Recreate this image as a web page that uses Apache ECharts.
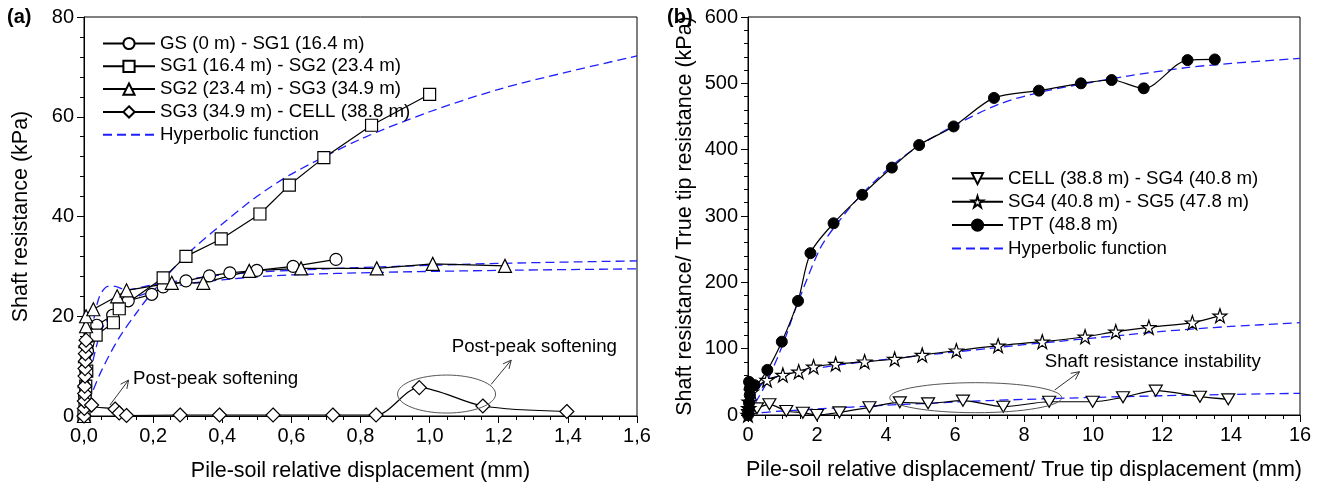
<!DOCTYPE html>
<html><head><meta charset="utf-8">
<script src="https://cdn.jsdelivr.net/npm/echarts@6/dist/echarts.min.js"></script>
<style>html,body{margin:0;padding:0;background:#fff}#c{width:1320px;height:490px}</style>
</head><body><div id="c"></div><script>
// ---------- (a) measured data [displacement mm, resistance kPa] ----------
const gsSg1 = [[0,0],[0.002,4],[0.005,9],[0.01,13],[0.02,16],[0.037,18.2],[0.083,20.2],[0.128,23.1],[0.196,24.4],[0.229,25.9],[0.295,27.1],[0.363,28.1],[0.422,28.7],[0.5,29.2],[0.605,30.0],[0.729,31.4]];
const sg1Sg2 = [[0,0],[0.003,3],[0.005,6],[0.008,9],[0.035,16.2],[0.085,18.7],[0.102,21.5],[0.229,27.7],[0.295,32],[0.397,35.5],[0.509,40.5],[0.594,46.3],[0.694,51.8],[0.832,58.3],[1.0,64.5]];
const sg2Sg3 = [[0,0],[0.002,7],[0.003,12],[0.004,15],[0.006,18],[0.006,20],[0.027,21.4],[0.096,24],[0.123,25.2],[0.254,26.7],[0.345,26.7],[0.478,29.1],[0.628,29.6],[0.847,29.6],[1.009,30.5],[1.218,30.1]];
const sg3Cell = [[0,0],[0.001,1.5],[0.001,3],[0.002,4.5],[0.002,6],[0.003,8],[0.003,9.5],[0.004,11],[0.004,12.5],[0.005,14],[0.006,15.2],[0.022,2.2],[0.09,1.4],[0.102,0.6],[0.123,0.1],[0.278,0.2],[0.392,0.2],[0.547,0.2],[0.72,0.2],[0.845,0.2],[0.97,5.7],[1.154,2.0],[1.397,0.9]];
// (a) hyperbolic fits
const fitSg1Sg2 = [[0,0],[0.02,4],[0.05,9],[0.1,15.5],[0.15,20.5],[0.2,25],[0.3,32.5],[0.4,38.5],[0.5,44],[0.6,48.5],[0.8,55.5],[1.0,61],[1.2,65.5],[1.4,69],[1.6,72.2]];
const fitSg2Sg3 = [[0,0],[0.01,8],[0.025,18],[0.045,24],[0.07,26],[0.09,26],[0.12,25.3],[0.2,26.3],[0.4,28.3],[0.6,29.2],[0.86,29.9],[1.2,30.6],[1.6,31.1]];
const fitGsSg1 = [[0,0],[0.01,4],[0.02,9],[0.04,15],[0.06,18.5],[0.1,21.8],[0.15,23.8],[0.2,25],[0.3,26.5],[0.4,27.3],[0.5,27.9],[0.6,28.3],[0.86,28.8],[1.2,29.2],[1.6,29.5]];

// ---------- (b) measured data ----------
const cellSg4 = [[0,0],[0.05,3],[0.26,10],[0.62,16.1],[1.11,6],[1.59,3.5],[2.0,0],[2.65,4],[3.52,11.6],[4.4,19.1],[5.22,17.6],[6.23,21.6],[7.4,12.5],[8.73,20],[9.99,20],[10.87,26.7],[11.82,36.7],[13.1,27.6],[13.92,23.6]];
const sg4Sg5 = [[0,0],[0.02,10],[0.03,20],[0.1,35],[0.55,52.8],[1.01,60.3],[1.47,65.3],[1.9,72.8],[2.54,76.9],[3.38,80.4],[4.25,84.4],[5.05,90.5],[6.04,97],[7.25,104.5],[8.53,110.5],[9.77,118],[10.66,125.6],[11.62,132.2],[12.88,139.2],[13.68,149.7]];
const tpt = [[0,0],[0.02,8],[0.03,18],[0.05,30],[0.05,40],[0.03,50],[0.19,45],[0.56,68],[0.98,110.5],[1.45,172],[1.81,244],[2.48,289],[3.31,332],[4.17,373],[4.96,407],[5.96,435],[7.13,478],[8.43,489],[9.65,500],[10.54,505],[11.47,492.5],[12.74,535],[13.53,536]];
const fitCellSg4 = [[0,0],[0.3,3],[1,6],[2,9],[3,12],[4,14.8],[5,17],[6,19.5],[7,21.8],[8,23.5],[10,26.5],[12,29],[14,31],[16,32.7]];
const fitSg4Sg5 = [[0,0],[0.2,30],[0.43,48],[1,60],[2,70.5],[3,78],[4,84],[5,89.5],[6,95],[7,100.5],[8,106],[9,111],[10,116],[11,121],[12,126],[13,130],[14,133.5],[16,139.2]];
const fitTpt = [[0,0],[0.5,45],[1,105],[1.4,163],[2.07,249],[2.5,283],[3.3,333],[4.2,377],[5,407],[6,437],[7.3,469],[8.5,487],[10,502],[11,511],[12.7,523.6],[14,530],[16,537.7]];

// ---------- tick labels ----------
const leftXTickLabels = ['0,0','0,2','0,4','0,6','0,8','1,0','1,2','1,4','1,6'];
const leftYTickLabels = ['0','20','40','60','80'];
const rightXTickLabels = ['0','2','4','6','8','10','12','14','16'];
const rightYTickLabels = ['0','100','200','300','400','500','600'];

const FIT = 'Hyperbolic function';
const namesA = ['GS (0 m) - SG1 (16.4 m)','SG1 (16.4 m) - SG2 (23.4 m)','SG2 (23.4 m) - SG3 (34.9 m)','SG3 (34.9 m) - CELL (38.8 m)'];
const namesB = ['CELL (38.8 m) - SG4 (40.8 m)','SG4 (40.8 m) - SG5 (47.8 m)','TPT (48.8 m)'];

const FF = '"Liberation Sans", Arial, sans-serif';
const BLUE = '#1f1fff';
const starPath = 'path://M50,0 L61.8,35.4 L99,35.4 L68.9,57.3 L80.3,92.7 L50,70.8 L19.7,92.7 L31.1,57.3 L1,35.4 L38.2,35.4 Z';
const downTri = 'path://M0,0 L100,0 L50,86 Z';

function dataSeries(name, data, gi, symbol, size, opt) {
  const s = {
    type: 'line', name, data, xAxisIndex: gi, yAxisIndex: gi,
    symbol, symbolSize: size, showSymbol: true,
    lineStyle: { color: '#000', width: 1.2 },
    itemStyle: { color: '#fff', borderColor: '#000', borderWidth: 1.2 },
    z: 3, animation: false, smooth: false
  };
  return Object.assign(s, opt || {});
}
function fitSeries(data, gi, smooth) {
  return {
    type: 'line', name: FIT, data, xAxisIndex: gi, yAxisIndex: gi,
    symbol: 'circle', showSymbol: false, smooth: smooth, z: 2, animation: false,
    lineStyle: { color: BLUE, width: 1.3, type: [9, 5] },
    itemStyle: { color: BLUE }
  };
}
function axisCommon() {
  return {
    axisLine: { show: true, onZero: false, lineStyle: { color: '#000', width: 1 } },
    axisTick: { show: true, inside: false, length: 7, lineStyle: { color: '#000', width: 1 } },
    minorTick: { show: true, length: 4, lineStyle: { color: '#000', width: 1 } },
    splitLine: { show: false },
    axisLabel: { color: '#000', fontSize: 20, fontFamily: FF, margin: 10 },
    nameTextStyle: { color: '#000', fontSize: 21.5, fontFamily: FF }
  };
}
function mk(extra) {
  const o = axisCommon();
  Object.keys(extra).forEach(k => {
    if (typeof extra[k] === 'object' && !Array.isArray(extra[k]) && o[k]) o[k] = Object.assign({}, o[k], extra[k]);
    else o[k] = extra[k];
  });
  return o;
}
const fitLegendItem = { name: FIT, itemStyle: { opacity: 0 } };

const chart = echarts.init(document.getElementById('c'), null, { renderer: 'canvas' });
const option = {
  animation: false,
  backgroundColor: '#fff',
  grid: [
    { left: 84, right: 683, top: 17, bottom: 74, show: true, borderColor: '#000', borderWidth: 1, containLabel: false },
    { left: 748, right: 20, top: 17, bottom: 75, show: true, borderColor: '#000', borderWidth: 1, containLabel: false }
  ],
  xAxis: [
    mk({ type: 'value', gridIndex: 0, min: 0, max: 1.6, interval: 0.2, minorTick: { splitNumber: 4 },
      axisLabel: { formatter: v => leftXTickLabels[Math.round(v / 0.2)] },
      name: 'Pile-soil relative displacement (mm)', nameLocation: 'middle', nameGap: 44 }),
    mk({ type: 'value', gridIndex: 1, min: 0, max: 16, interval: 2, minorTick: { splitNumber: 4 },
      axisLabel: { formatter: v => rightXTickLabels[Math.round(v / 2)] },
      name: 'Pile-soil relative displacement/ True tip displacement (mm)', nameLocation: 'middle', nameGap: 44 })
  ],
  yAxis: [
    mk({ type: 'value', gridIndex: 0, min: 0, max: 80, interval: 20, minorTick: { splitNumber: 5 },
      axisLabel: { formatter: v => leftYTickLabels[Math.round(v / 20)] },
      name: 'Shaft resistance (kPa)', nameLocation: 'middle', nameGap: 52 }),
    mk({ type: 'value', gridIndex: 1, min: 0, max: 600, interval: 100, minorTick: { splitNumber: 5 },
      axisLabel: { formatter: v => rightYTickLabels[Math.round(v / 100)] },
      name: 'Shaft resistance/ True tip resistance (kPa)', nameLocation: 'middle', nameGap: 52 })
  ],
  legend: [
    { data: namesA.concat([fitLegendItem]), orient: 'vertical', left: 97, top: 29, itemWidth: 52, itemHeight: 14, itemGap: 3.8,
      textStyle: { color: '#000', fontSize: 18.7, fontFamily: FF }, selectedMode: false },
    { data: namesB.concat([fitLegendItem]), orient: 'vertical', left: 946, top: 164, itemWidth: 51, itemHeight: 14, itemGap: 4.3,
      textStyle: { color: '#000', fontSize: 18.7, fontFamily: FF }, selectedMode: false }
  ],
  series: [
    fitSeries(fitSg1Sg2, 0, 0.3),
    fitSeries(fitSg2Sg3, 0, 0.3),
    fitSeries(fitGsSg1, 0, 0.3),
    dataSeries(namesA[0], gsSg1, 0, 'circle', 12),
    dataSeries(namesA[1], sg1Sg2, 0, 'rect', 12),
    dataSeries(namesA[2], sg2Sg3, 0, 'triangle', 13),
    dataSeries(namesA[3], sg3Cell, 0, 'diamond', 14, { smooth: 0.3 }),
    fitSeries(fitCellSg4, 1, 0.3),
    fitSeries(fitSg4Sg5, 1, 0.3),
    fitSeries(fitTpt, 1, 0.3),
    dataSeries(namesB[0], cellSg4, 1, downTri, [13, 11], { smooth: 0.3 }),
    dataSeries(namesB[1], sg4Sg5, 1, starPath, 14, { smooth: 0.3 }),
    dataSeries(namesB[2], tpt, 1, 'circle', 11, { smooth: 0.3, itemStyle: { color: '#000', borderColor: '#000', borderWidth: 1 } })
  ]
};
chart.setOption(option);

// ---------- annotations placed through the axes ----------
function P(gi, x, y) { return chart.convertToPixel({ gridIndex: gi }, [x, y]); }
function arrow(a, b) {
  const ang = Math.atan2(b[1] - a[1], b[0] - a[0]);
  const L = 9, w = 0.45;
  const p1 = [b[0] - L * Math.cos(ang - w), b[1] - L * Math.sin(ang - w)];
  const p2 = [b[0] - L * Math.cos(ang + w), b[1] - L * Math.sin(ang + w)];
  return [
    { type: 'line', shape: { x1: a[0], y1: a[1], x2: b[0], y2: b[1] }, style: { stroke: '#333', lineWidth: 1 }, z: 10 },
    { type: 'polyline', shape: { points: [p1, b, p2] }, style: { stroke: '#333', lineWidth: 1, fill: null }, z: 10 }
  ];
}
const g = [];
const t1 = P(0, 0.142, 7.4);
g.push({ type: 'text', x: t1[0], y: t1[1], style: { text: 'Post-peak softening', fill: '#000', font: '18.7px ' + FF, textVerticalAlign: 'middle' }, z: 10 });
g.push(...arrow(P(0, 0.075, 2.2), P(0, 0.129, 7.2)));
const t2 = P(0, 1.064, 13.9);
g.push({ type: 'text', x: t2[0], y: t2[1], style: { text: 'Post-peak softening', fill: '#000', font: '18.7px ' + FF, textVerticalAlign: 'middle' }, z: 10 });
g.push(...arrow(P(0, 1.178, 6.34), P(0, 1.236, 11.2)));
const e1 = P(0, 1.049, 4.4);
g.push({ type: 'ellipse', shape: { cx: e1[0], cy: e1[1], rx: 49, ry: 19 }, style: { stroke: '#555', lineWidth: 1, fill: null }, z: 10 });
const e2 = P(1, 6.6, 26.1);
g.push({ type: 'ellipse', shape: { cx: e2[0], cy: e2[1], rx: 86, ry: 15 }, style: { stroke: '#555', lineWidth: 1, fill: null }, z: 10 });
g.push(...arrow(P(1, 8.89, 37.7), P(1, 9.61, 65.3)));
const t3 = P(1, 8.6, 80.4);
g.push({ type: 'text', x: t3[0], y: t3[1], style: { text: 'Shaft resistance instability', fill: '#000', font: '18.7px ' + FF, textVerticalAlign: 'middle' }, z: 10 });
g.push({ type: 'text', x: 7, y: 17, style: { text: '(a)', fill: '#000', font: 'bold 20px ' + FF, textVerticalAlign: 'middle' }, z: 10 });
g.push({ type: 'text', x: 667, y: 17, style: { text: '(b)', fill: '#000', font: 'bold 20px ' + FF, textVerticalAlign: 'middle' }, z: 10 });
chart.setOption({ graphic: g });
</script></body></html>
